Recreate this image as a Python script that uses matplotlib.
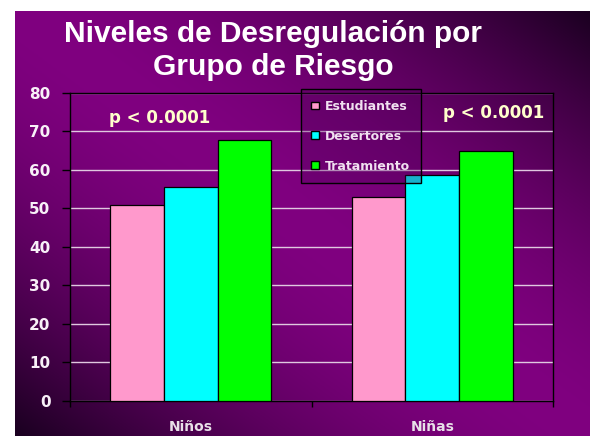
import numpy as np
import matplotlib
matplotlib.use("Agg")
import matplotlib.pyplot as plt
from matplotlib.patches import Patch

# chart data
groups = ["Niños", "Niñas"]
series = ["Estudiantes", "Desertores", "Tratamiento"]
estudiantes = [51.0, 52.9]
desertores = [55.6, 58.6]
tratamiento = [67.9, 64.8]
colors = ["#FF99CC", "#00FFFF", "#00FF00"]
y_ticks = [0, 10, 20, 30, 40, 50, 60, 70, 80]
p_labels = ["p < 0.0001", "p < 0.0001"]

W, H = 597, 436
fig = plt.figure(figsize=(W / 100, H / 100), dpi=100)
fig.patch.set_facecolor("white")

# purple diagonal gradient background (dark in bottom-left / top-right corners)
bg = fig.add_axes([15 / W, 0, 575 / W, 425 / H])
bg.set_axis_off()
xx, yy = np.meshgrid(np.linspace(0, 1, 300), np.linspace(0, 1, 300))
t = np.abs(xx - yy) ** 1.7
light = np.array([0x80, 0x00, 0x80]) / 255
dark = np.array([0x1a, 0x00, 0x20]) / 255
img = light[None, None, :] * (1 - t[..., None]) + dark[None, None, :] * t[..., None]
bg.imshow(img, aspect="auto", extent=[0, 1, 1, 0])

ax = fig.add_axes([70 / W, 35.3 / H, 483 / W, 307.7 / H])
ax.set_facecolor("none")

x = np.arange(len(groups))
bw = 2 / 9
for i, (vals, name) in enumerate(zip([estudiantes, desertores, tratamiento], series)):
    ax.bar(x + (i - 1) * bw, vals, bw, color=colors[i], edgecolor="black",
           linewidth=0.9, label=name, zorder=3)

ax.set_xlim(-0.5, 1.5)
ax.set_ylim(0, 80)
ax.set_yticks(y_ticks)
ax.set_yticklabels([str(v) for v in y_ticks], fontsize=11, fontweight="bold",
                   color="#F8F0F8")
ax.tick_params(axis="y", direction="out", length=6, width=1, color="black", pad=8)
ax.set_xticks(x)
ax.set_xticklabels(groups, fontsize=10, fontweight="bold", color="#E8E0E8")
ax.tick_params(axis="x", which="major", length=0, pad=14)
ax.set_xticks([-0.5, 0.5, 1.5], minor=True)
ax.tick_params(axis="x", which="minor", direction="out", length=4, width=1, color="black")

ax.yaxis.grid(True, color="#E0C8E0", linewidth=1, zorder=1)
ax.set_axisbelow(True)
for s in ax.spines.values():
    s.set_color("black")
    s.set_linewidth(1)

# p-value annotations
ax.text(0.186, 0.919, p_labels[0], transform=ax.transAxes, ha="center", va="center",
        fontsize=12, fontweight="bold", color="#FFFFCC", zorder=5)
ax.text(0.878, 0.934, p_labels[1], transform=ax.transAxes, ha="center", va="center",
        fontsize=12, fontweight="bold", color="#FFFFCC", zorder=5)

handles = [Patch(facecolor=c, edgecolor="black", linewidth=1) for c in colors]
leg = ax.legend(handles, series, loc="upper left", bbox_to_anchor=(0.4776, 1.012),
                borderaxespad=0, handlelength=0.6, handleheight=0.6,
                handletextpad=0.5, labelspacing=1.35, borderpad=0.85, fancybox=False,
                prop={"weight": "bold", "size": 9})
leg.set_zorder(6)
frame = leg.get_frame()
frame.set_alpha(None)
frame.set_facecolor((0.3, 0.0, 0.35, 0.3))
frame.set_edgecolor("black")
frame.set_linewidth(1)
for txt in leg.get_texts():
    txt.set_color("#F0E0F0")

# title
fig.text(273 / W, 1 - 42 / H, "Niveles de Desregulación por", ha="center", va="baseline",
         fontsize=21.5, fontweight="bold", color="white", family="Liberation Sans")
fig.text(273 / W, 1 - 75 / H, "Grupo de Riesgo", ha="center", va="baseline",
         fontsize=21.5, fontweight="bold", color="white", family="Liberation Sans")

fig.savefig("out.png", dpi=100)
